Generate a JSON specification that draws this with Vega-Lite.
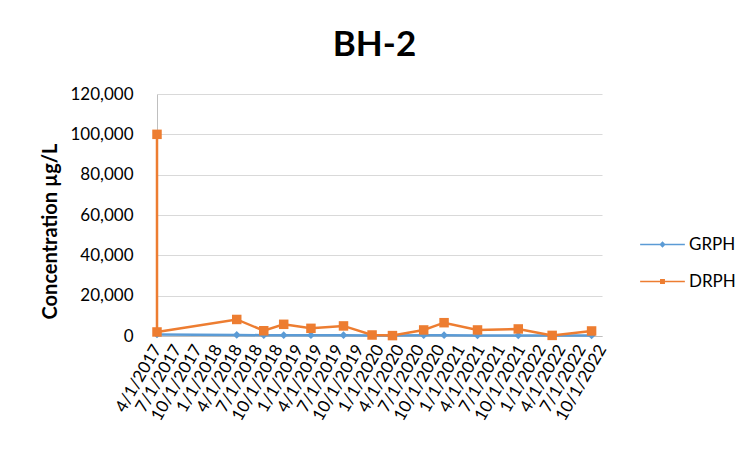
{
  "$schema": "https://vega.github.io/schema/vega-lite/v6.json",
  "autosize": "none",
  "width": 445,
  "height": 242,
  "padding": {"left": 157, "top": 94, "right": 144, "bottom": 119},
  "background": "white",
  "config": {
    "font": "Lato",
    "view": {"stroke": null}
  },
  "title": {
    "text": "BH-2",
    "fontSize": 35,
    "fontWeight": "bold",
    "font": "Lato",
    "color": "#000000",
    "anchor": "middle",
    "dx": -5,
    "offset": 22
  },
  "data": {
    "values": [
      {"date": "2017-04-01", "series": "GRPH", "value": 800, "seq": 1},
      {"date": "2018-03-27", "series": "GRPH", "value": 500, "seq": 2},
      {"date": "2018-07-27", "series": "GRPH", "value": 400, "seq": 3},
      {"date": "2018-10-25", "series": "GRPH", "value": 400, "seq": 4},
      {"date": "2019-02-25", "series": "GRPH", "value": 400, "seq": 5},
      {"date": "2019-07-22", "series": "GRPH", "value": 400, "seq": 6},
      {"date": "2019-11-28", "series": "GRPH", "value": 300, "seq": 7},
      {"date": "2020-02-28", "series": "GRPH", "value": 300, "seq": 8},
      {"date": "2020-07-18", "series": "GRPH", "value": 400, "seq": 9},
      {"date": "2020-10-18", "series": "GRPH", "value": 400, "seq": 10},
      {"date": "2021-03-18", "series": "GRPH", "value": 300, "seq": 11},
      {"date": "2021-09-18", "series": "GRPH", "value": 300, "seq": 12},
      {"date": "2022-02-18", "series": "GRPH", "value": 300, "seq": 13},
      {"date": "2022-08-15", "series": "GRPH", "value": 300, "seq": 14},
      {"date": "2017-04-01", "series": "DRPH", "value": 100000, "seq": 1},
      {"date": "2017-04-01", "series": "DRPH", "value": 2000, "seq": 2},
      {"date": "2018-03-27", "series": "DRPH", "value": 8200, "seq": 3},
      {"date": "2018-07-27", "series": "DRPH", "value": 2600, "seq": 4},
      {"date": "2018-10-25", "series": "DRPH", "value": 5800, "seq": 5},
      {"date": "2019-02-25", "series": "DRPH", "value": 3800, "seq": 6},
      {"date": "2019-07-22", "series": "DRPH", "value": 5000, "seq": 7},
      {"date": "2019-11-28", "series": "DRPH", "value": 500, "seq": 8},
      {"date": "2020-02-28", "series": "DRPH", "value": 200, "seq": 9},
      {"date": "2020-07-18", "series": "DRPH", "value": 3000, "seq": 10},
      {"date": "2020-10-18", "series": "DRPH", "value": 6600, "seq": 11},
      {"date": "2021-03-18", "series": "DRPH", "value": 3000, "seq": 12},
      {"date": "2021-09-18", "series": "DRPH", "value": 3500, "seq": 13},
      {"date": "2022-02-18", "series": "DRPH", "value": 300, "seq": 14},
      {"date": "2022-08-15", "series": "DRPH", "value": 2500, "seq": 15}
    ]
  },
  "encoding": {
    "x": {
      "field": "date",
      "type": "temporal",
      "scale": {
        "type": "utc",
        "domain": [
          {"year": 2017, "month": 4, "date": 1, "utc": true},
          {"year": 2022, "month": 10, "date": 1, "utc": true}
        ]
      },
      "axis": {
        "title": null,
        "format": "%-m/%-d/%Y",
        "values": [
          {"year": 2017, "month": 4, "date": 1, "utc": true},
          {"year": 2017, "month": 7, "date": 1, "utc": true},
          {"year": 2017, "month": 10, "date": 1, "utc": true},
          {"year": 2018, "month": 1, "date": 1, "utc": true},
          {"year": 2018, "month": 4, "date": 1, "utc": true},
          {"year": 2018, "month": 7, "date": 1, "utc": true},
          {"year": 2018, "month": 10, "date": 1, "utc": true},
          {"year": 2019, "month": 1, "date": 1, "utc": true},
          {"year": 2019, "month": 4, "date": 1, "utc": true},
          {"year": 2019, "month": 7, "date": 1, "utc": true},
          {"year": 2019, "month": 10, "date": 1, "utc": true},
          {"year": 2020, "month": 1, "date": 1, "utc": true},
          {"year": 2020, "month": 4, "date": 1, "utc": true},
          {"year": 2020, "month": 7, "date": 1, "utc": true},
          {"year": 2020, "month": 10, "date": 1, "utc": true},
          {"year": 2021, "month": 1, "date": 1, "utc": true},
          {"year": 2021, "month": 4, "date": 1, "utc": true},
          {"year": 2021, "month": 7, "date": 1, "utc": true},
          {"year": 2021, "month": 10, "date": 1, "utc": true},
          {"year": 2022, "month": 1, "date": 1, "utc": true},
          {"year": 2022, "month": 4, "date": 1, "utc": true},
          {"year": 2022, "month": 7, "date": 1, "utc": true},
          {"year": 2022, "month": 10, "date": 1, "utc": true}
        ],
        "labelAngle": -60,
        "labelAlign": "right",
        "labelBaseline": "middle",
        "labelFontSize": 17,
        "labelColor": "#000000",
        "labelPadding": 10,
        "labelOverlap": false,
        "labelFlush": false,
        "ticks": false,
        "tickSize": 0,
        "grid": false,
        "domain": true,
        "domainColor": "#bfbfbf",
        "domainWidth": 1
      }
    },
    "y": {
      "field": "value",
      "type": "quantitative",
      "scale": {"domain": [0, 120000], "nice": false},
      "axis": {
        "title": "Concentration µg/L",
        "titleFontSize": 20,
        "titleFontWeight": "bold",
        "titleColor": "#000000",
        "titleAngle": -90,
        "titleAlign": "center",
        "titleBaseline": "middle",
        "titleX": -107,
        "titleY": 137,
        "values": [0, 20000, 40000, 60000, 80000, 100000, 120000],
        "format": ",d",
        "labelFontSize": 17,
        "labelColor": "#000000",
        "labelPadding": 24,
        "ticks": false,
        "tickSize": 0,
        "grid": true,
        "gridColor": "#d9d9d9",
        "gridWidth": 1,
        "domain": true,
        "domainColor": "#bfbfbf",
        "domainWidth": 1
      }
    },
    "color": {
      "field": "series",
      "type": "nominal",
      "scale": {"domain": ["GRPH", "DRPH"], "range": ["#5B9BD5", "#ED7D31"]},
      "legend": {
        "title": null,
        "orient": "none",
        "legendX": 483,
        "legendY": 128,
        "labelFontSize": 17,
        "labelColor": "#000000",
        "labelOffset": 4,
        "symbolSize": 2000,
        "symbolType": "M-1,-0.03H1V0.03H-1Z M-0.11,-0.11H0.11V0.11H-0.11Z",
        "symbolStrokeWidth": 0,
        "rowPadding": 6,
        "encode": {
          "symbols": {
            "update": {
              "shape": {"signal": "datum.value === 'GRPH' ? 'M-1,-0.03H1V0.03H-1Z M0,-0.14L0.14,0L0,0.14L-0.14,0Z' : 'M-1,-0.03H1V0.03H-1Z M-0.11,-0.11H0.11V0.11H-0.11Z'"},
              "fill": {"scale": "color", "field": "value"},
              "fillOpacity": {"value": 1},
              "stroke": {"value": "transparent"},
              "strokeWidth": {"value": 0}
            }
          }
        }
      }
    }
  },
  "layer": [
    {
      "mark": {"type": "line", "strokeWidth": 2.5},
      "encoding": {
        "order": {"field": "seq", "type": "quantitative"}
      }
    },
    {
      "transform": [{"filter": "datum.series === 'GRPH'"}],
      "mark": {"type": "point", "filled": true, "opacity": 1, "shape": "diamond", "size": 60}
    },
    {
      "transform": [{"filter": "datum.series === 'DRPH'"}],
      "mark": {"type": "point", "filled": true, "opacity": 1, "shape": "square", "size": 90}
    }
  ]
}
